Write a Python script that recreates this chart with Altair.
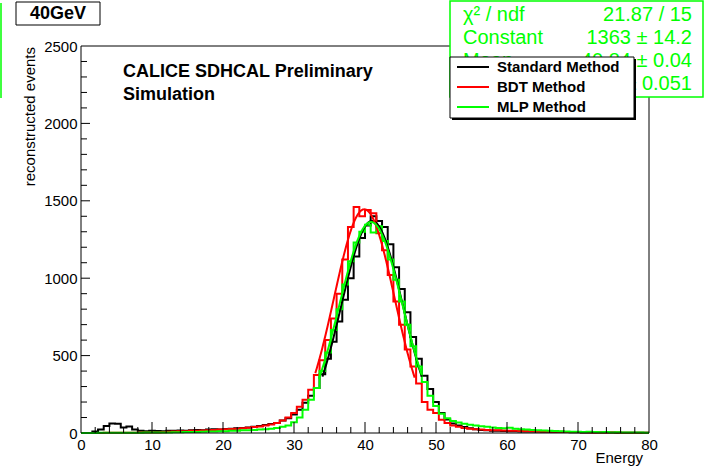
import altair as alt
import pandas as pd

# ---------------- data ----------------
BIN_WIDTH = 0.8
N_BINS = 100

standard_counts = [
    0, 0, 10, 22, 45, 62, 60, 35, 42, 22,
    15, 12, 15, 13, 12, 14, 15, 16, 15, 18,
    20, 18, 22, 25, 23, 26, 28, 30, 32, 35,
    40, 45, 52, 58, 65, 80, 95, 120, 150, 195,
    240, 290, 380, 480, 590, 720, 860, 1000, 1140, 1260,
    1340, 1400, 1370, 1330, 1220, 1070, 930, 780, 620, 480,
    370, 285, 200, 130, 88, 62, 48, 38, 30, 24,
    20, 18, 15, 14, 13, 12, 11, 10, 10, 9,
    9, 8, 8, 7, 6, 6, 5, 5, 4, 4,
    4, 3, 3, 3, 2, 2, 2, 1, 1, 1,
]
bdt_counts = [
    0, 0, 0, 0, 1, 1, 2, 1, 2, 2,
    3, 3, 4, 4, 5, 8, 10, 12, 12, 14,
    15, 16, 18, 20, 22, 24, 26, 28, 30, 34,
    38, 42, 48, 55, 64, 80, 100, 130, 170, 215,
    280, 375, 470, 600, 740, 900, 1120, 1330, 1460, 1400,
    1440, 1420, 1290, 1180, 1020, 850, 700, 540, 430, 320,
    200, 150, 130, 85, 65, 48, 40, 32, 28, 24,
    22, 20, 18, 17, 16, 15, 14, 13, 12, 11,
    10, 10, 9, 8, 8, 7, 6, 6, 5, 5,
    4, 4, 3, 3, 3, 2, 2, 2, 2, 1,
]
mlp_counts = [
    0, 0, 0, 1, 1, 1, 2, 1, 2, 2,
    2, 3, 3, 3, 4, 4, 5, 5, 6, 6,
    7, 8, 9, 10, 11, 12, 14, 15, 17, 18,
    20, 22, 25, 28, 33, 40, 48, 70, 100, 150,
    215, 290, 400, 520, 665, 800, 960, 1110, 1230, 1300,
    1345, 1295, 1335, 1240, 1120, 990, 850, 700, 560, 430,
    330, 240, 175, 125, 95, 78, 68, 60, 54, 48,
    44, 40, 36, 32, 30, 34, 28, 25, 22, 20,
    18, 16, 15, 13, 12, 10, 8, 8, 7, 8,
    6, 5, 6, 4, 5, 4, 3, 4, 3, 2,
]

series_names = ["Standard Method", "BDT Method", "MLP Method"]
series_colors = ["#000000", "#ff0000", "#00ff00"]

fit_constant = [1370, 1445, 1363]
fit_mean = [41.0, 39.9, 40.84]
fit_sigma = [4.3, 4.25, 4.45]
fit_low = [34.0, 33.0, 33.5]
fit_high = [48.0, 47.0, 48.0]

stat_names = ["χ² / ndf", "Constant", "Mean", "Sigma"]
stat_values = ["21.87 / 15", "1363 ± 14.2", "40.84 ± 0.04", "4.45 ± 0.051"]

x_labels = [0, 10, 20, 30, 40, 50, 60, 70, 80]
y_labels = [0, 500, 1000, 1500, 2000, 2500]
x_major_ticks = [10, 20, 30, 40, 50, 60, 70]
x_minor_ticks = [v for v in range(2, 80, 2) if v % 10 != 0]
y_major_ticks = [500, 1000, 1500, 2000]
y_minor_ticks = [v for v in range(100, 2500, 100) if v % 500 != 0]

# ---------------- layout ----------------
W, H = 568, 387
FONT = "Liberation Sans"

xs = alt.Scale(domain=[0, 80], nice=False, zero=False)
ys = alt.Scale(domain=[0, 2500], nice=False)

x_axis = alt.Axis(
    values=x_labels, ticks=False, domain=False, grid=False,
    labelFontSize=15, labelFont=FONT, labelPadding=4,
    labelFlush=False, labelOverlap=False, labelColor="black", title=None)
y_axis = alt.Axis(
    values=y_labels, ticks=False, domain=False, grid=False,
    labelFontSize=15, labelFont=FONT, labelPadding=4,
    labelOverlap=False, labelColor="black", format="d", title=None)


def X(field="e"):
    return alt.X(f"{field}:Q", scale=xs, axis=x_axis)


def Y(field="n"):
    return alt.Y(f"{field}:Q", scale=ys, axis=y_axis)


one = pd.DataFrame({"a": [0]})


def hist_df(counts):
    rows = [{"e": i * BIN_WIDTH, "n": c} for i, c in enumerate(counts)]
    rows.append({"e": N_BINS * BIN_WIDTH, "n": counts[-1]})
    return pd.DataFrame(rows)


layers = []

# histograms
all_counts = [standard_counts, bdt_counts, mlp_counts]
for counts, col in zip(all_counts, series_colors):
    layers.append(
        alt.Chart(hist_df(counts)).mark_line(
            interpolate="step-after", color=col, strokeWidth=2
        ).encode(x=X(), y=Y())
    )

# gaussian fit curves
for k in range(3):
    c, m, s = fit_constant[k], fit_mean[k], fit_sigma[k]
    layers.append(
        alt.Chart(alt.sequence(fit_low[k], fit_high[k] + 0.05, 0.1, as_="e"))
        .transform_calculate(n=f"{c}*exp(-0.5*pow((datum.e-{m})/{s},2))")
        .mark_line(color=series_colors[k], strokeWidth=2)
        .encode(x=X(), y=Y())
    )

# inward ticks
layers.append(alt.Chart(pd.DataFrame({"e": x_major_ticks})).mark_rule(color="black", strokeWidth=1)
              .encode(x=X(), y=alt.value(H), y2=alt.value(H - 11)))
layers.append(alt.Chart(pd.DataFrame({"e": x_minor_ticks})).mark_rule(color="black", strokeWidth=1)
              .encode(x=X(), y=alt.value(H), y2=alt.value(H - 6)))
layers.append(alt.Chart(pd.DataFrame({"n": y_major_ticks})).mark_rule(color="black", strokeWidth=1)
              .encode(y=Y(), x=alt.value(0), x2=alt.value(9)))
layers.append(alt.Chart(pd.DataFrame({"n": y_minor_ticks})).mark_rule(color="black", strokeWidth=1)
              .encode(y=Y(), x=alt.value(0), x2=alt.value(6)))

# frame
layers.append(alt.Chart(one).mark_rect(filled=False, stroke="black", strokeWidth=1)
              .encode(x=alt.value(0), x2=alt.value(W), y=alt.value(0), y2=alt.value(H)))


def text_layer(txt, x, y, size, weight="normal", align="left", baseline="alphabetic",
               color="black", angle=0):
    return alt.Chart(one).mark_text(
        text=txt, font=FONT, fontSize=size, fontWeight=weight, align=align,
        baseline=baseline, color=color, angle=angle
    ).encode(x=alt.value(x), y=alt.value(y))


# axis titles
layers.append(text_layer("reconstructed events", -51, 1, 15, align="right",
                         baseline="middle", angle=270))
layers.append(text_layer("Energy", 562, 417, 15, align="right"))

# annotation
layers.append(text_layer("CALICE SDHCAL Preliminary", 42, 31, 18, weight="bold"))
layers.append(text_layer("Simulation", 42, 54, 18, weight="bold"))

# stats box (green)
layers.append(alt.Chart(one).mark_rect(fill="white", stroke="#00ff00", strokeWidth=1.5)
              .encode(x=alt.value(369), x2=alt.value(622), y=alt.value(-45), y2=alt.value(51)))
stat_rows_y = [-31, -8, 15, 38]
for name, val, yy in zip(stat_names, stat_values, stat_rows_y):
    layers.append(text_layer(name, 382, yy, 20, baseline="middle", color="#00ff00"))
    layers.append(text_layer(val, 611, yy, 20, baseline="middle", color="#00ff00", align="right"))

# left green edge
layers.append(alt.Chart(one).mark_rule(color="#00ff00", strokeWidth=1.5)
              .encode(x=alt.value(-80), y=alt.value(-43), y2=alt.value(52)))

# legend box with shadow
layers.append(alt.Chart(one).mark_rect(fill="black")
              .encode(x=alt.value(371), x2=alt.value(555), y=alt.value(13), y2=alt.value(74)))
layers.append(alt.Chart(one).mark_rect(fill="white", stroke="black", strokeWidth=1)
              .encode(x=alt.value(369), x2=alt.value(553), y=alt.value(11), y2=alt.value(72)))
legend_rows_y = [21, 41, 61]
for name, col, yy in zip(series_names, series_colors, legend_rows_y):
    layers.append(alt.Chart(one).mark_rule(color=col, strokeWidth=2)
                  .encode(x=alt.value(376), x2=alt.value(408), y=alt.value(yy)))
    layers.append(text_layer(name, 416, yy, 15, weight="bold", baseline="middle"))

# title box
layers.append(alt.Chart(one).mark_rect(fill="white", stroke="black", strokeWidth=1)
              .encode(x=alt.value(-65), x2=alt.value(19), y=alt.value(-44), y2=alt.value(-21)))
layers.append(text_layer("40GeV", -23, -32, 18, weight="bold", align="center", baseline="middle"))

chart = alt.layer(*layers).properties(
    width=W, height=H,
    autosize=alt.AutoSizeParams(type="none"),
    padding={"left": 81, "top": 46, "right": 704 - 81 - W, "bottom": 468 - 46 - H},
    background="white",
).configure_view(stroke=None)

chart.save("out.html", embed_options={"renderer": "svg", "actions": False})
